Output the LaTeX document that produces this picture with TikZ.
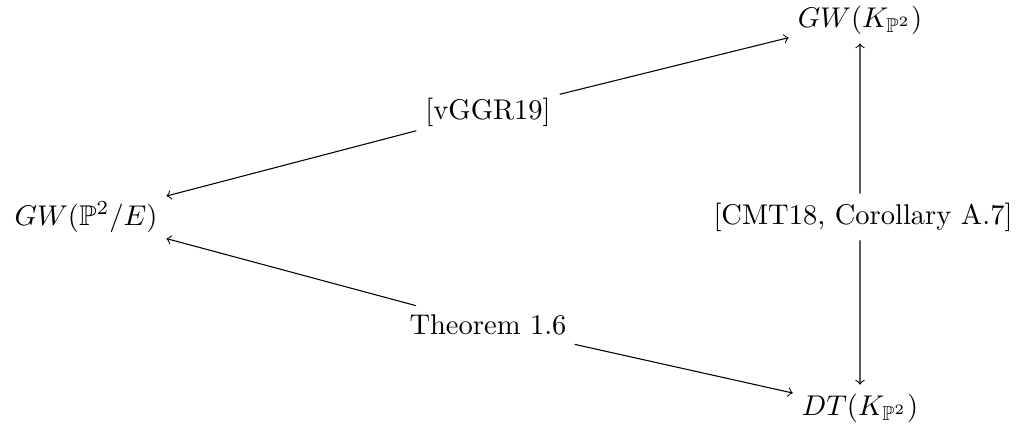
\documentclass[tikz,border=0pt]{standalone}
\usepackage{amssymb}
\begin{document}
\begin{tikzpicture}[x=0.01318cm,y=-0.01318cm, lbl/.style={inner sep=3pt,scale=1.07}, arr/.style={->}]
\useasboundingbox (0,0) rectangle (1023,436);
\node[lbl] (gwk) at (860,20) {$GW(K_{\mathbb{P}^2})$};
\node[lbl] (gwp) at (86,217) {$GW(\mathbb{P}^2/E)$};
\node[lbl] (dt) at (860,408) {$DT(K_{\mathbb{P}^2})$};
\node[lbl] (vg) at (488,112) {[vGGR19]};
\node[lbl] (th) at (488,325) {Theorem 1.6};
\node[lbl] (cmt) at (863,217) {[CMT18, Corollary A.7]};
\draw[arr] (vg) -- (gwk);
\draw[arr] (vg) -- (gwp);
\draw[arr] (th) -- (gwp);
\draw[arr] (th) -- (dt);
\draw[arr] (cmt.north -| gwk.south) -- (gwk);
\draw[arr] (cmt.south -| dt.north) -- (dt);
\end{tikzpicture}
\end{document}
